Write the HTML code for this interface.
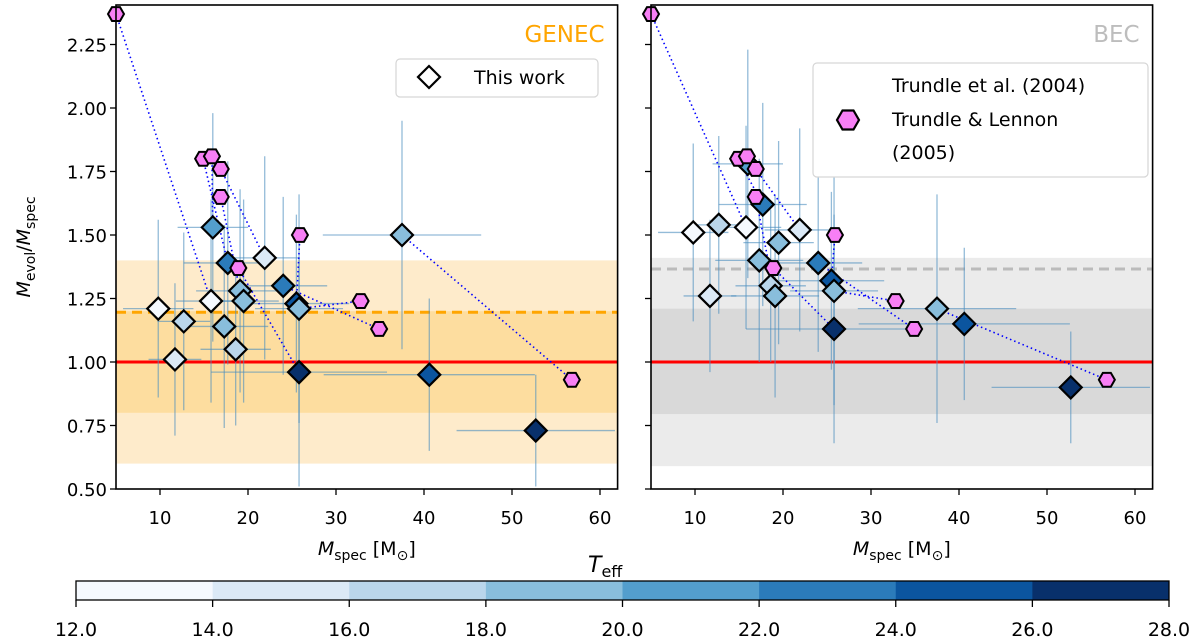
<!DOCTYPE html>
<html><head><meta charset="utf-8"><style>
body{margin:0;background:#fff}
svg{display:block;font-family:"DejaVu Sans","Liberation Sans",sans-serif}
</style></head><body>
<svg id="fig" width="1200" height="641" viewBox="0 0 1200 641" xmlns="http://www.w3.org/2000/svg"></svg>
<script>
// ---- data ----
const mspec   = [9.8,11.7,12.7,15.8,16.0,17.3,17.7,18.6,19.1,19.5,21.9,24.0,25.5,25.8,25.8,37.5,40.6,52.7];
const ratioG  = [1.21,1.01,1.16,1.24,1.53,1.14,1.39,1.05,1.28,1.24,1.41,1.30,1.23,1.21,0.96,1.50,0.95,0.73];
const ratioB  = [1.51,1.26,1.54,1.53,1.78,1.40,1.62,1.30,1.26,1.47,1.52,1.39,1.32,1.28,1.13,1.21,1.15,0.90];
const teff    = [13,15,17,13,21,19,23,17,19,19,15,23,25,19,27,19,25,27];
const xerr    = [4,3,3,4,4,5,5,4,5,4,4,5,6,5,10,9,12,9];
const yerr    = [0.35,0.3,0.35,0.4,0.45,0.4,0.4,0.3,0.4,0.4,0.4,0.35,0.35,0.45,0.45,0.45,0.3,0.22];
const hexM    = [5,14.9,15.9,16.9,16.9,18.9,25.9,32.8,34.9,56.8];
const hexR    = [2.37,1.80,1.81,1.76,1.65,1.37,1.50,1.24,1.13,0.93];
const hexLink = [3,6,4,10,8,14,12,13,11,15];
const cbTicks = [12,14,16,18,20,22,24,26,28];
const xTicks  = [10,20,30,40,50,60];
const yTicks  = [0.5,0.75,1.0,1.25,1.5,1.75,2.0,2.25];
const blues   = ['#f5f9fe','#dbe9f6','#bad6eb','#89bedc','#539ecd','#2b7bba','#0b559f','#08306b'];

const NS='http://www.w3.org/2000/svg';
const svg=document.getElementById('fig');
function el(t,a,p){const e=document.createElementNS(NS,t);for(const k in a)e.setAttribute(k,a[k]);(p||svg).appendChild(e);return e;}
function col(t){let i=Math.floor((t-12)/2);i=Math.max(0,Math.min(7,i));return blues[i];}
const Y=v=>362+(1-v)*254;
function panel(x0,ratio,name,bands,dash,dashCol,title,titleCol,showLabels){
  const X=v=>x0+(v-5)*8.8;
  const g=el('g',{});
  
  
  el('rect',{x:X(5),y:Y(bands[0][1]),width:X(62)-X(5),height:Y(bands[0][0])-Y(bands[0][1]),fill:bands[2]},g);
  el('rect',{x:X(5),y:Y(bands[1][1]),width:X(62)-X(5),height:Y(bands[1][0])-Y(bands[1][1]),fill:bands[3]},g);
  el('line',{x1:X(5),x2:X(62),y1:Y(dash),y2:Y(dash),stroke:dashCol,'stroke-width':3,'stroke-dasharray':'10,6'},g);
  el('line',{x1:X(5),x2:X(62),y1:Y(1),y2:Y(1),stroke:'#ff0000','stroke-width':3},g);
  // error bars
  for(let i=0;i<mspec.length;i++){
    const e1=el('line',{x1:X(mspec[i]-xerr[i]),x2:X(Math.min(62,mspec[i]+xerr[i])),y1:Y(ratio[i]),y2:Y(ratio[i]),stroke:'#4d8fbf','stroke-width':1.3,opacity:0.6},g);
    
    
    const e2=el('line',{x1:X(mspec[i]),x2:X(mspec[i]),y1:Y(ratio[i]-yerr[i]),y2:Y(ratio[i]+yerr[i]),stroke:'#4d8fbf','stroke-width':1.3,opacity:0.6},g);
    
    
  }
  // links
  for(let i=0;i<hexM.length;i++){
    const j=hexLink[i];
    const l=el('line',{x1:X(hexM[i]),y1:Y(hexR[i]),x2:X(mspec[j]),y2:Y(ratio[j]),stroke:'#0000ff','stroke-width':1.6,'stroke-dasharray':'1.5,3'},g);
    
    
  }
  // diamonds
  for(let i=0;i<mspec.length;i++){
    const cx=X(mspec[i]),cy=Y(ratio[i]),r=11;
    const d=el('polygon',{points:`${cx},${cy-r} ${cx+r},${cy} ${cx},${cy+r} ${cx-r},${cy}`,fill:col(teff[i]),stroke:'#000','stroke-width':2.2},g);
    
    
  }
  // hexes
  for(let i=0;i<hexM.length;i++){
    const cx=X(hexM[i]),cy=Y(hexR[i]),r=8;let p=[];
    for(let k=0;k<6;k++){const a=Math.PI/3*k;p.push((cx+r*Math.cos(a))+','+(cy+r*Math.sin(a)));}
    const h=el('polygon',{points:p.join(' '),fill:'#f77ff5',stroke:'#000','stroke-width':2},g);
    
    
  }
  el('rect',{x:X(5),y:5,width:X(62)-X(5),height:484,fill:'none',stroke:'#000','stroke-width':1.6},g);
  xTicks.forEach(t=>{
    el('line',{x1:X(t),x2:X(t),y1:489,y2:495,stroke:'#000','stroke-width':1.3},g);
    const tx=el('text',{x:X(t),y:524,'font-size':18,'text-anchor':'middle'},g);tx.textContent=t;
    
    
  });
  yTicks.forEach(t=>{
    el('line',{x1:X(5)-6,x2:X(5),y1:Y(t),y2:Y(t),stroke:'#000','stroke-width':1.3},g);
    if(showLabels){const tx=el('text',{x:X(5)-9,y:Y(t)+7,'font-size':18,'text-anchor':'end'},g);tx.textContent=t.toFixed(2);
    
    }
  });
  const xl=el('text',{x:(X(5)+X(62))/2,y:555,'font-size':19,'text-anchor':'middle'},g);
  xl.innerHTML='<tspan font-style="italic">M</tspan><tspan font-size="14" dy="5">spec</tspan><tspan dy="-5"> [M</tspan><tspan font-size="14" dy="5">⊙</tspan><tspan dy="-5">]</tspan>';
  
  
  const tt=el('text',{x:X(62)-13,y:42,'font-size':23,'text-anchor':'end',fill:titleCol},g);tt.textContent=title;
  
  
  return X;
}
panel(116,ratioG,'genec-panel',[[0.6,1.4],[0.8,1.2],'#feebcb','#fddd9f'],1.196,'#ffa500','GENEC','#ffa500',true);
panel(651,ratioB,'bec-panel',[[0.59,1.41],[0.795,1.21],'#ebebeb','#d9d9d9'],1.366,'#bbbbbb','BEC','#bdbdbd',false);

// y label
const yl=el('text',{x:0,y:0,'font-size':19,'text-anchor':'middle',transform:'translate(30,247) rotate(-90)'});
yl.innerHTML='<tspan font-style="italic">M</tspan><tspan font-size="14" dy="5">evol</tspan><tspan dy="-5">/</tspan><tspan font-style="italic">M</tspan><tspan font-size="14" dy="5">spec</tspan>';



// legends
const lg1=el('g',{});


el('rect',{x:396,y:59,width:202,height:38,rx:4,fill:'#fff',stroke:'#d6d6d6','stroke-width':1.2},lg1);
el('polygon',{points:'429,66 440,77 429,88 418,77',fill:'#fff',stroke:'#000','stroke-width':2.2},lg1);
const t1=el('text',{x:474,y:84,'font-size':19},lg1);t1.textContent='This work';
const lg2=el('g',{});


el('rect',{x:813,y:63,width:335,height:114,rx:4,fill:'#fff',stroke:'#d6d6d6','stroke-width':1.2},lg2);
{let p=[];for(let k=0;k<6;k++){const a=Math.PI/3*k;p.push((848+11*Math.cos(a))+','+(120+11*Math.sin(a)));}
el('polygon',{points:p.join(' '),fill:'#f77ff5',stroke:'#000','stroke-width':2.2},lg2);}
[['Trundle et al. (2004)',92],['Trundle & Lennon',126],['(2005)',159]].forEach(([s,y])=>{const t=el('text',{x:892,y:y,'font-size':19},lg2);t.textContent=s;});

// colorbar
const cb=el('g',{});


const CX=v=>76+(v-12)/16*(1169-76);
for(let i=0;i<8;i++){
  const r=el('rect',{x:CX(12+2*i),y:581,width:CX(14)-CX(12)+0.5,height:19,fill:blues[i]},cb);
  
  
}
el('rect',{x:76,y:581,width:1093,height:19,fill:'none',stroke:'#000','stroke-width':1.3},cb);
cbTicks.forEach(t=>{
  el('line',{x1:CX(t),x2:CX(t),y1:600,y2:607,stroke:'#000','stroke-width':1.3},cb);
  const tx=el('text',{x:CX(t),y:636,'font-size':19,'text-anchor':'middle'},cb);tx.textContent=t.toFixed(1);
  
  
});
const ct=el('text',{x:588,y:572,'font-size':22},cb);
ct.innerHTML='<tspan font-style="italic">T</tspan><tspan font-size="16" dy="5">eff</tspan>';
</script>
</body></html>
